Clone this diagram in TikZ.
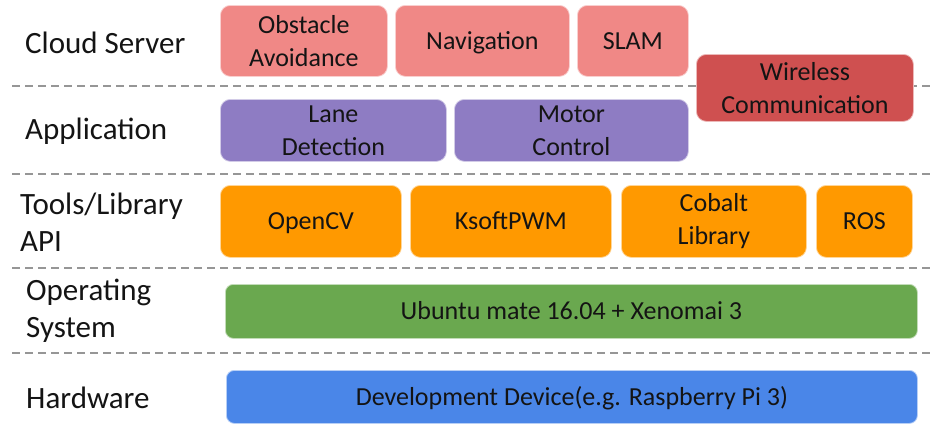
\documentclass[tikz,border=0pt]{standalone}
\usepackage{fontspec}
\setmainfont{Carlito}
\definecolor{cpink}{RGB}{240,136,134}
\definecolor{cred}{RGB}{207,80,80}
\definecolor{cpurple}{RGB}{142,124,195}
\definecolor{corange}{RGB}{255,153,0}
\definecolor{cgreen}{RGB}{106,168,79}
\definecolor{cblue}{RGB}{74,134,232}
\definecolor{ctext}{RGB}{20,20,20}
\definecolor{cdash}{RGB}{150,150,150}
\begin{document}
\begin{tikzpicture}[x=1pt,y=-1pt,
  blk/.style={anchor=north west, rounded corners=10pt, draw=white!60!#1, line width=0.8pt, fill=#1,
    text=ctext, align=center, inner sep=0pt, font=\fontsize{26}{33}\selectfont},
  one/.style={text height=17pt, text depth=0pt},
  lbl/.style={anchor=west, align=left, inner sep=0pt, text=ctext, font=\fontsize{31}{37}\selectfont},
  sep/.style={draw=cdash, line width=1.6pt, dash pattern=on 8pt off 5pt}]
\useasboundingbox (0,0) rectangle (948,432);
% separators
\foreach \i/\yy in {1/86,2/174,3/268,4/353}{
  \coordinate (dl\i) at (12,\yy);
  \coordinate (dr\i) at (930,\yy);
  \draw[sep] (dl\i) -- (dr\i);
}
% labels
\node[lbl] (lcloud) at (25,43) {Cloud Server};
\node[lbl] (lapp) at (25,131) {Application};
\node[lbl] (ltools) at (20,222) {Tools/Library\\API};
\node[lbl] (los) at (26,311) {Operating\\System};
\node[lbl] (lhw) at (26,398) {Hardware};
% cloud server
\node[blk=cpink, minimum width=167pt, minimum height=71pt] (obst) at (220,5) {Obstacle\\Avoidance};
\node[blk=cpink, one, minimum width=174pt, minimum height=71pt] (nav) at (395,5) {Navigation};
\node[blk=cpink, one, minimum width=111pt, minimum height=71pt] (slam) at (577,5) {SLAM};
\node[blk=cred, minimum width=217pt, minimum height=67pt] (wire) at (696,54) {Wireless\\Communication};
% application
\node[blk=cpurple, minimum width=226pt, minimum height=62pt] (lane) at (220,99) {Lane\\Detection};
\node[blk=cpurple, minimum width=234pt, minimum height=62pt] (motor) at (454,99) {Motor\\Control};
% tools
\node[blk=corange, one, minimum width=181pt, minimum height=72pt] (cv) at (220,185) {OpenCV};
\node[blk=corange, one, minimum width=201pt, minimum height=72pt] (pwm) at (410,185) {KsoftPWM};
\node[blk=corange, minimum width=185pt, minimum height=72pt] (cob) at (621,185) {Cobalt\\Library};
\node[blk=corange, one, minimum width=96pt, minimum height=72pt] (ros) at (816,185) {ROS};
% OS
\node[blk=cgreen, one, rounded corners=8pt, minimum width=692pt, minimum height=54pt] (os) at (225,284) {Ubuntu mate 16.04 + Xenomai 3};
% hardware
\node[blk=cblue, one, rounded corners=8pt, minimum width=691pt, minimum height=53pt] (hw) at (226,370) {Development Device(e.g. Raspberry Pi 3)};
\end{tikzpicture}
\end{document}
